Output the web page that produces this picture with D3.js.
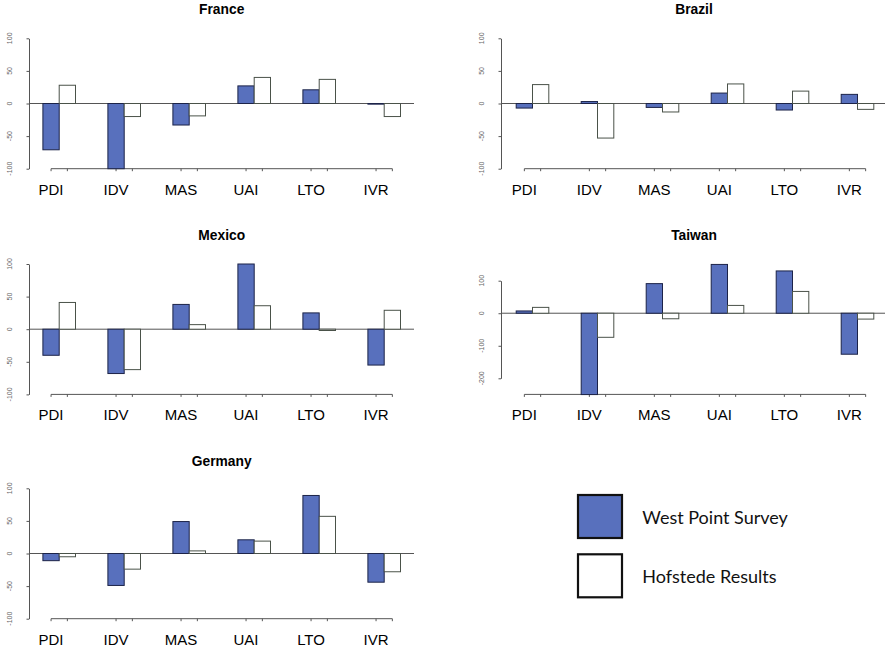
<!DOCTYPE html>
<html>
<head>
<meta charset="utf-8">
<script src="https://cdn.jsdelivr.net/npm/d3@7"></script>
<style>
  html, body { margin: 0; padding: 0; background: #fff; }
  svg { display: block; }
</style>
</head>
<body>
<svg id="chart" width="885" height="649"></svg>
<script>
// ---- DATA ----
const categories = ["PDI", "IDV", "MAS", "UAI", "LTO", "IVR"];
const seriesNames = ["West Point Survey", "Hofstede Results"];

const franceWest  = [-71, -100, -33, 27, 21, -1];
const franceHof   = [28, -20, -19, 40, 37, -20];
const brazilWest  = [-7, 3, -6, 16, -10, 14];
const brazilHof   = [29, -53, -13, 30, 19, -9];
const mexicoWest  = [-40, -68, 38, 100, 25, -55];
const mexicoHof   = [41, -62, 7, 36, -2, 29];
const taiwanWest  = [7, -250, 91, 150, 130, -126];
const taiwanHof   = [18, -74, -17, 24, 67, -18];
const germanyWest = [-11, -49, 49, 21, 89, -44];
const germanyHof  = [-5, -24, 4, 19, 57, -28];

const standardTicks = [-100, -50, 0, 50, 100];
const taiwanTicks   = [-200, -100, 0, 100];

// ---- LAYOUT (positions only) ----
const panels = [
  { title: "France",  west: franceWest,  hof: franceHof,  ticks: standardTicks, col: 0, row: 0 },
  { title: "Brazil",  west: brazilWest,  hof: brazilHof,  ticks: standardTicks, col: 1, row: 0 },
  { title: "Mexico",  west: mexicoWest,  hof: mexicoHof,  ticks: standardTicks, col: 0, row: 1 },
  { title: "Taiwan",  west: taiwanWest,  hof: taiwanHof,  ticks: taiwanTicks,   col: 1, row: 1 },
  { title: "Germany", west: germanyWest, hof: germanyHof, ticks: standardTicks, col: 0, row: 2 }
];
const colAxisX = [29, 501];
const colBandOff = [13.9, 15.2];
const colTitleX = [221.7, 694];
const colTickLabelX = [10, 481.7];
const rowTop = [38.3, 264, 488.3];
const rowTitleY = [14, 240, 466];
const rowLabelY = [195, 420, 645];
const plotH = 130.4;

const blueFill = "#5870bd";
const blueStroke = "#1c2348";
const whiteStroke = "#4a5249";

const svg = d3.select("#chart");

panels.forEach(p => {
  const ax = colAxisX[p.col];
  const top = rowTop[p.row];
  const g = svg.append("g");

  const x = d3.scaleBand().domain(categories)
    .range([ax + colBandOff[p.col], ax + colBandOff[p.col] + 6 * 65]).padding(0);
  const xs = d3.scaleBand().domain(seriesNames).range([0, 32.6]).padding(0);

  let y;
  if (p.ticks === taiwanTicks) {
    y = d3.scaleLinear().domain([-200, 100]).range([top + 114.3, top + 16.7]);
  } else {
    y = d3.scaleLinear().domain([-100, 100]).range([top + plotH, top]);
  }

  // title
  g.append("text")
    .attr("x", colTitleX[p.col]).attr("y", rowTitleY[p.row])
    .attr("text-anchor", "middle")
    .style("font-family", "'Liberation Sans', Arial, sans-serif")
    .style("font-weight", "bold").style("font-size", "13.8px")
    .text(p.title);

  // y axis
  const yAxis = d3.axisLeft(y).tickValues(p.ticks).tickSize(2.5).tickSizeOuter(0).tickFormat("");
  const ya = g.append("g").attr("transform", `translate(${ax},0)`).call(yAxis);
  ya.select(".domain").attr("stroke", "#555");
  ya.selectAll(".tick line").attr("stroke", "#555");

  // rotated tick labels
  g.selectAll(".ylab").data(p.ticks).enter().append("text")
    .attr("transform", d => `translate(${colTickLabelX[p.col]},${y(d)}) rotate(-90)`)
    .attr("text-anchor", "middle").attr("dy", "0.35em")
    .style("font-family", "'Liberation Sans', Arial, sans-serif")
    .style("font-size", "7px").attr("fill", "#666")
    .text(d => d);

  // bottom axis line + ticks at bar centres
  const bottomY = top + plotH;
  const centers = [];
  categories.forEach(c => seriesNames.forEach(s => centers.push(x(c) + xs(s) + xs.bandwidth() / 2)));
  g.append("line")
    .attr("x1", d3.min(centers)).attr("x2", d3.max(centers))
    .attr("y1", bottomY).attr("y2", bottomY)
    .attr("stroke", "#555").attr("stroke-width", 1);
  g.selectAll(".bt").data(centers).enter().append("line")
    .attr("x1", d => d).attr("x2", d => d)
    .attr("y1", bottomY).attr("y2", bottomY + 2.5)
    .attr("stroke", "#555");

  // zero line
  g.append("line")
    .attr("x1", ax).attr("x2", ax + 385)
    .attr("y1", y(0)).attr("y2", y(0))
    .attr("stroke", "#555").attr("stroke-width", 1);

  // bars
  const rows = [];
  categories.forEach((c, i) => {
    rows.push({ c, s: seriesNames[0], v: p.west[i] });
    rows.push({ c, s: seriesNames[1], v: p.hof[i] });
  });
  g.selectAll(".bar").data(rows).enter().append("rect")
    .attr("x", d => x(d.c) + xs(d.s))
    .attr("width", xs.bandwidth())
    .attr("y", d => Math.min(y(d.v), y(0)))
    .attr("height", d => Math.abs(y(d.v) - y(0)))
    .attr("fill", d => d.s === seriesNames[0] ? blueFill : "#fff")
    .attr("stroke", d => d.s === seriesNames[0] ? blueStroke : whiteStroke)
    .attr("stroke-width", 1);

  // category labels
  g.selectAll(".cl").data(categories).enter().append("text")
    .attr("x", d => x(d) + xs(seriesNames[0]) + xs.bandwidth() / 2)
    .attr("y", rowLabelY[p.row])
    .attr("text-anchor", "middle")
    .style("font-family", "'Liberation Sans', Arial, sans-serif")
    .style("font-size", "15px").attr("fill", "#000")
    .text(d => d);
});

// legend
const legend = svg.append("g");
const legendY = [494, 553.3];
seriesNames.forEach((s, i) => {
  legend.append("rect")
    .attr("x", 578).attr("y", legendY[i] + 1)
    .attr("width", 44).attr("height", 43)
    .attr("fill", i === 0 ? blueFill : "#fff")
    .attr("stroke", "#111").attr("stroke-width", 2.2);
  legend.append("text")
    .attr("x", 642.3).attr("y", legendY[i] + 29.5)
    .style("font-family", "Lato, 'Open Sans', sans-serif")
    .style("font-size", "18px").attr("fill", "#111")
    .text(s);
});
</script>
</body>
</html>
